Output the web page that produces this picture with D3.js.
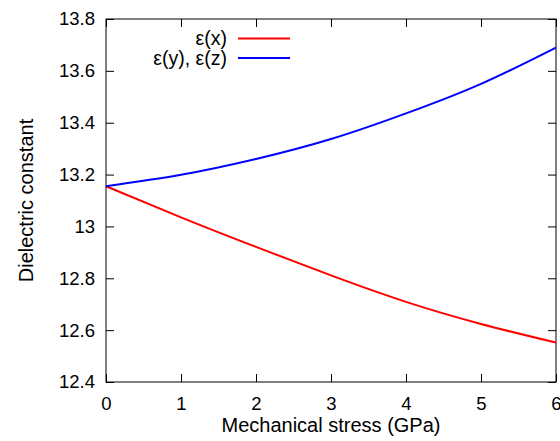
<!DOCTYPE html>
<meta charset="utf-8">
<style>
body { margin: 0; background: #fff; }
text { font-family: "Liberation Sans", Arial, sans-serif; font-size: 20px; fill: #000; }
.line { fill: none; stroke-width: 2px; }
</style>
<body>
<script src="https://cdn.jsdelivr.net/npm/d3@7"></script>
<script>

// data
var stress = [0, 1, 2, 3, 4, 5, 6];
var epsX   = [13.155, 13.035, 12.921, 12.811, 12.709, 12.624, 12.552];
var epsYZ  = [13.155, 13.199, 13.260, 13.337, 13.436, 13.550, 13.690];
var xTicks = [0, 1, 2, 3, 4, 5, 6];
var yTicks = [12.4, 12.6, 12.8, 13, 13.2, 13.4, 13.6, 13.8];
var seriesNames = ["ε(x)", "ε(y), ε(z)"];
var seriesColors = ["#ff0000", "#0000ff"];

var margin = {top: 19, right: 4, bottom: 59, left: 106},
    width = 560 - margin.left - margin.right,
    height = 441 - margin.top - margin.bottom;

var x = d3.scaleLinear().domain([0, 6]).range([0, width]);
var y = d3.scaleLinear().domain([12.4, 13.8]).range([height, 0]);

var svg = d3.select("body").append("svg")
    .attr("width", 560)
    .attr("height", 441)
  .append("g")
    .attr("transform", "translate(" + margin.left + "," + margin.top + ")");

var tickLen = 8;

// axes with inward ticks, mirrored on top and right
function styleAxis(g) {
  g.select(".domain").remove();
  g.selectAll(".tick line").attr("stroke", "#000");
  g.selectAll(".tick text").style("font-size", "18.5px");
}

svg.append("g")
    .attr("transform", "translate(0," + height + ")")
    .call(d3.axisBottom(x).tickValues(xTicks).tickSizeInner(-tickLen).tickSizeOuter(0).tickPadding(15).tickFormat(d3.format("d")))
    .call(styleAxis);

svg.append("g")
    .call(d3.axisTop(x).tickValues(xTicks).tickSizeInner(-tickLen).tickSizeOuter(0).tickFormat(""))
    .call(styleAxis);

svg.append("g")
    .call(d3.axisLeft(y).tickValues(yTicks).tickSizeInner(-tickLen).tickSizeOuter(0).tickPadding(11).tickFormat(function(d) { return d3.format("")(+d.toFixed(1)); }))
    .call(styleAxis);

svg.append("g")
    .attr("transform", "translate(" + width + ",0)")
    .call(d3.axisRight(y).tickValues(yTicks).tickSizeInner(-tickLen).tickSizeOuter(0).tickFormat(""))
    .call(styleAxis);

svg.append("rect")
    .attr("width", width)
    .attr("height", height)
    .attr("fill", "none")
    .attr("stroke", "#000")
    .attr("stroke-width", 1);

// curves
var line = d3.line()
    .x(function(d) { return x(d[0]); })
    .y(function(d) { return y(d[1]); })
    .curve(d3.curveNatural);

[epsX, epsYZ].forEach(function(vals, i) {
  svg.append("path")
      .datum(stress.map(function(s, j) { return [s, vals[j]]; }))
      .attr("class", "line")
      .attr("stroke", seriesColors[i])
      .attr("d", line);
});

// legend
seriesNames.forEach(function(name, i) {
  var ly = 38.5 + i * 19.5 - margin.top;
  svg.append("text")
      .attr("x", 227 - margin.left)
      .attr("y", ly)
      .attr("dy", "0.35em")
      .attr("text-anchor", "end")
      .style("font-size", "19.5px")
      .text(name);
  svg.append("line")
      .attr("x1", 238 - margin.left)
      .attr("x2", 290 - margin.left)
      .attr("y1", ly)
      .attr("y2", ly)
      .attr("stroke", seriesColors[i])
      .attr("stroke-width", 2);
});

// axis titles
svg.append("text")
    .attr("x", width / 2)
    .attr("y", height + 50)
    .attr("text-anchor", "middle")
    .text("Mechanical stress (GPa)");

svg.append("text")
    .attr("transform", "translate(" + (33 - margin.left) + "," + (height / 2) + ") rotate(-90)")
    .attr("text-anchor", "middle")
    .text("Dielectric constant");

</script>
</body>
